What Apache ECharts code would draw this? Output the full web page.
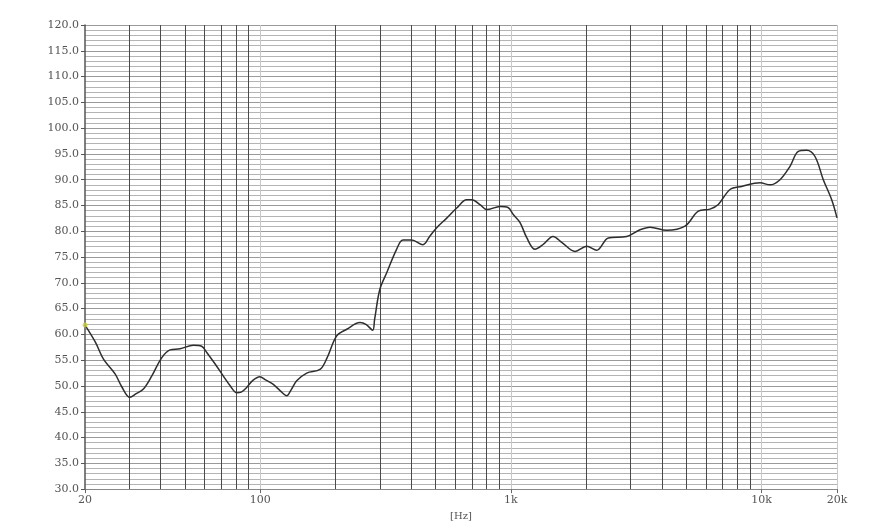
<!DOCTYPE html>
<html>
<head>
<meta charset="utf-8">
<script src="https://cdn.jsdelivr.net/npm/echarts@6/dist/echarts.min.js"></script>
<style>html,body{margin:0;padding:0;background:#fff}#c{width:880px;height:526px}</style>
</head>
<body>
<div id="c"></div>
<script>
var freqs = [20, 22, 23.7, 26.4, 28, 30.2, 32, 34.2, 37, 40.5, 43.7, 47.9, 54.1, 58.4, 61.2, 66, 71.3, 76, 80.6, 84, 88.3, 93, 99.7, 105, 112.8, 120, 127.6, 133, 139.8, 153.3, 173.2, 185, 201.9, 221.4, 250.2, 265, 281, 286, 300, 320, 350, 371, 402, 446, 474, 506, 556, 608, 666, 698, 755, 801, 905, 974, 1024, 1088, 1158, 1248, 1350, 1472, 1600, 1803, 2006, 2200, 2447, 2898, 3274, 3590, 4185, 4950, 5595, 6228, 6722, 7486, 8336, 9860, 10806, 11848, 12988, 14020, 15136, 16340, 17634, 19048, 20000];
var levels = [61.8, 58.5, 55.2, 52.3, 49.9, 47.8, 48.5, 49.4, 52.0, 55.5, 57.0, 57.2, 57.9, 57.7, 56.5, 54.3, 51.9, 50.0, 48.7, 48.8, 49.7, 51.0, 51.8, 51.2, 50.3, 49.1, 48.1, 49.3, 51.0, 52.5, 53.2, 55.5, 59.7, 61.0, 62.3, 61.9, 60.8, 62.9, 68.7, 72.0, 76.5, 78.3, 78.3, 77.4, 79.0, 80.7, 82.6, 84.5, 86.1, 86.1, 85.1, 84.2, 84.8, 84.6, 83.2, 81.7, 78.7, 76.5, 77.5, 79.0, 77.8, 76.1, 77.1, 76.3, 78.7, 79.0, 80.3, 80.8, 80.2, 81.0, 83.9, 84.3, 85.2, 88.1, 88.7, 89.4, 89.0, 90.0, 92.6, 95.5, 95.7, 94.5, 90.0, 86.1, 82.6];
var darkGridFreqs = [30, 40, 50, 60, 70, 80, 90, 200, 300, 400, 500, 600, 700, 800, 900, 2000, 3000, 4000, 5000, 6000, 7000, 8000, 9000];
var lightGridFreqs = [100, 1000, 10000, 20000];
var xTickLabels = {20: '20', 100: '100', 1000: '1k', 10000: '10k', 20000: '20k'};
var yMin = 30, yMax = 120, yStep = 5;

var data = freqs.map(function (f, i) { return [f, levels[i]]; });
var marks = darkGridFreqs.map(function (f) { return { xAxis: f, lineStyle: { color: '#4a4a4a', width: 1, type: 'solid' } }; })
  .concat(lightGridFreqs.map(function (f) { return { xAxis: f, lineStyle: { color: '#c8c8c8', width: 1, type: 'solid' } }; }));

var chart = echarts.init(document.getElementById('c'), null, { renderer: 'canvas' });
chart.setOption({
  animation: false,
  backgroundColor: '#fff',
  grid: { left: 85, right: 43, top: 25, bottom: 36 },
  xAxis: {
    type: 'log', logBase: 10, min: 20, max: 20000,
    name: '[Hz]', nameLocation: 'middle', nameGap: 21,
    nameTextStyle: { fontFamily: 'DejaVu Serif', fontSize: 10, color: '#555' },
    axisLine: { show: true, lineStyle: { color: '#888', width: 1 } },
    axisTick: { show: true, length: 4, lineStyle: { color: '#666' } },
    axisLabel: {
      fontFamily: 'DejaVu Serif', fontSize: 11, color: '#555', margin: 6,
      showMinLabel: true, showMaxLabel: true,
      formatter: function (v) { var k = Math.round(v); return xTickLabels[k] !== undefined ? xTickLabels[k] : ''; }
    },
    splitLine: { show: false }
  },
  yAxis: {
    type: 'value', min: yMin, max: yMax, interval: yStep,
    axisLine: { show: true, lineStyle: { color: '#555', width: 1.5 } },
    axisTick: { show: true, length: 4, inside: false, lineStyle: { color: '#555' } },
    axisLabel: {
      fontFamily: 'DejaVu Serif', fontSize: 11, color: '#555', margin: 6,
      formatter: function (v) { return v.toFixed(1); }
    },
    splitLine: { show: true, lineStyle: { color: '#9a9a9a', width: 1 } },
    minorTick: { show: false, splitNumber: 5 },
    minorSplitLine: { show: true, lineStyle: { color: '#b4b4b4', width: 1 } }
  },
  series: [
    {
      type: 'line', data: data, smooth: 0.35, showSymbol: false, silent: true,
      lineStyle: { color: '#2e2e2e', width: 1.5 },
      z: 5,
      markLine: { silent: true, symbol: 'none', label: { show: false }, animation: false, data: marks, z: 1 }
    },
    {
      type: 'scatter', data: [[freqs[0], levels[0]]], symbolSize: 5, silent: true,
      itemStyle: { color: '#c8d040' }, z: 6
    }
  ]
});
</script>
</body>
</html>
